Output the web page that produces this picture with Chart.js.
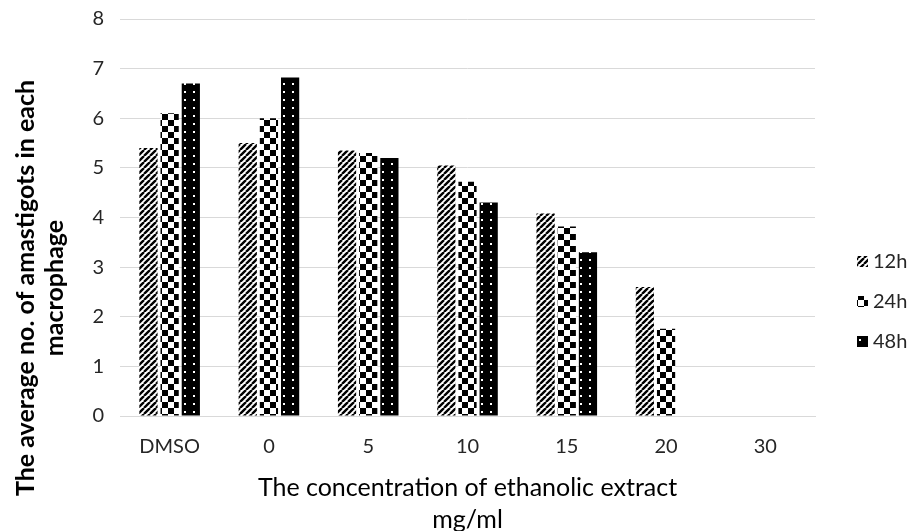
<!DOCTYPE html>
<html>
<head>
<meta charset="utf-8">
<script src="https://cdn.jsdelivr.net/npm/chart.js@4"></script>
<style>
    html, body { margin: 0; padding: 0; background: #fff; }
    #wrap { width: 916px; height: 531px; }
</style>
</head>
<body>
<div id="wrap"><canvas id="chart"></canvas></div>
<script>
// ---- Data ----
const categories = ['DMSO', '0', '5', '10', '15', '20', '30'];
const seriesNames = ['12h', '24h', '48h'];
const values12h = [5.4, 5.5, 5.35, 5.05, 4.08, 2.6, 0];
const values24h = [6.1, 6.0, 5.3, 4.72, 3.82, 1.76, 0];
const values48h = [6.7, 6.82, 5.2, 4.3, 3.3, 0, 0];
const yTicks = [0, 1, 2, 3, 4, 5, 6, 7, 8];
const xTitleLines = ['The concentration of ethanolic extract', 'mg/ml'];
const yTitleLines = ['The average no. of amastigots in each', 'macrophage'];

const FONT = "Lato, 'Open Sans', sans-serif";

// ---- Fill patterns (Excel style) ----
function makePattern(w, h, draw) {
    const c = document.createElement('canvas');
    c.width = w; c.height = h;
    const g = c.getContext('2d');
    draw(g, w, h);
    return c.getContext('2d').createPattern(c, 'repeat');
}

const stripes = makePattern(6, 6, (g, w, h) => {
    g.fillStyle = '#fff';
    g.fillRect(0, 0, w, h);
    g.strokeStyle = '#000';
    g.lineWidth = 2.4;
    g.beginPath();
    for (let k = -1; k <= 1; k++) {
        g.moveTo(k * w, h);
        g.lineTo(k * w + w, 0);
    }
    g.stroke();
});

const checker = makePattern(12, 12, (g, w, h) => {
    g.fillStyle = '#fff';
    g.fillRect(0, 0, w, h);
    g.fillStyle = '#000';
    g.fillRect(0, 0, 6, 6);
    g.fillRect(6, 6, 6, 6);
});

const dots = makePattern(9, 8, (g, w, h) => {
    g.fillStyle = '#000';
    g.fillRect(0, 0, w, h);
    g.fillStyle = '#fff';
    g.fillRect(4, 3, 2, 2);
});

// ---- Y title drawn off-centre like the original ----
const yTitlePlugin = {
    id: 'yTitle',
    afterDraw(chart) {
        const ctx = chart.ctx;
        ctx.save();
        ctx.translate(26, 288);
        ctx.rotate(-Math.PI / 2);
        ctx.font = 'bold 25px ' + FONT;
        ctx.fillStyle = '#000';
        ctx.textAlign = 'center';
        ctx.textBaseline = 'middle';
        yTitleLines.forEach((t, i) => ctx.fillText(t, 0, i * 29));
        ctx.restore();
    }
};

// ---- Legend on the right, lower half (as in the original) ----
const sideLegendPlugin = {
    id: 'sideLegend',
    afterDraw(chart) {
        const ctx = chart.ctx;
        ctx.save();
        ctx.font = '20px ' + FONT;
        ctx.textBaseline = 'middle';
        chart.data.datasets.forEach((ds, i) => {
            const y = 262 + i * 40;
            ctx.fillStyle = ds.backgroundColor;
            ctx.fillRect(857, y - 6, 11, 11);
            ctx.fillStyle = '#262626';
            ctx.fillText(ds.label, 873, y);
        });
        ctx.restore();
    }
};

new Chart(document.getElementById('chart'), {
    type: 'bar',
    data: {
        labels: categories,
        datasets: [
            { label: seriesNames[0], data: values12h, backgroundColor: stripes },
            { label: seriesNames[1], data: values24h, backgroundColor: checker },
            { label: seriesNames[2], data: values48h, backgroundColor: dots }
        ]
    },
    options: {
        responsive: true,
        maintainAspectRatio: false,
        animation: false,
        devicePixelRatio: 1,
        categoryPercentage: 0.64,
        barPercentage: 0.86,
        layout: { padding: { top: 19, right: 101, left: 0, bottom: 0 } },
        scales: {
            x: {
                grid: { display: false },
                border: { color: '#d9d9d9', width: 1 },
                ticks: { color: '#262626', font: { family: FONT, size: 20 }, padding: 11 },
                title: {
                    display: true,
                    text: xTitleLines,
                    color: '#000',
                    font: { family: FONT, size: 25, lineHeight: 1.28 },
                    padding: { top: 0, bottom: -5 }
                },
                afterFit: (s) => {
                    s.height = 115;
                    s.paddingLeft = 0;
                    s.paddingRight = 0;
                }
            },
            y: {
                min: 0,
                max: 8,
                afterBuildTicks: (s) => { s.ticks = yTicks.map(v => ({ value: v })); },
                grid: { color: '#d9d9d9', lineWidth: 1, drawTicks: false },
                border: { display: false },
                ticks: { color: '#262626', font: { family: FONT, size: 20 }, padding: 16 },
                afterFit: (s) => {
                    s.width = 120;
                    s.paddingTop = 0;
                    s.paddingBottom = 0;
                }
            }
        },
        plugins: {
            legend: { display: false },
            tooltip: { enabled: false }
        }
    },
    plugins: [yTitlePlugin, sideLegendPlugin]
});
</script>
</body>
</html>
